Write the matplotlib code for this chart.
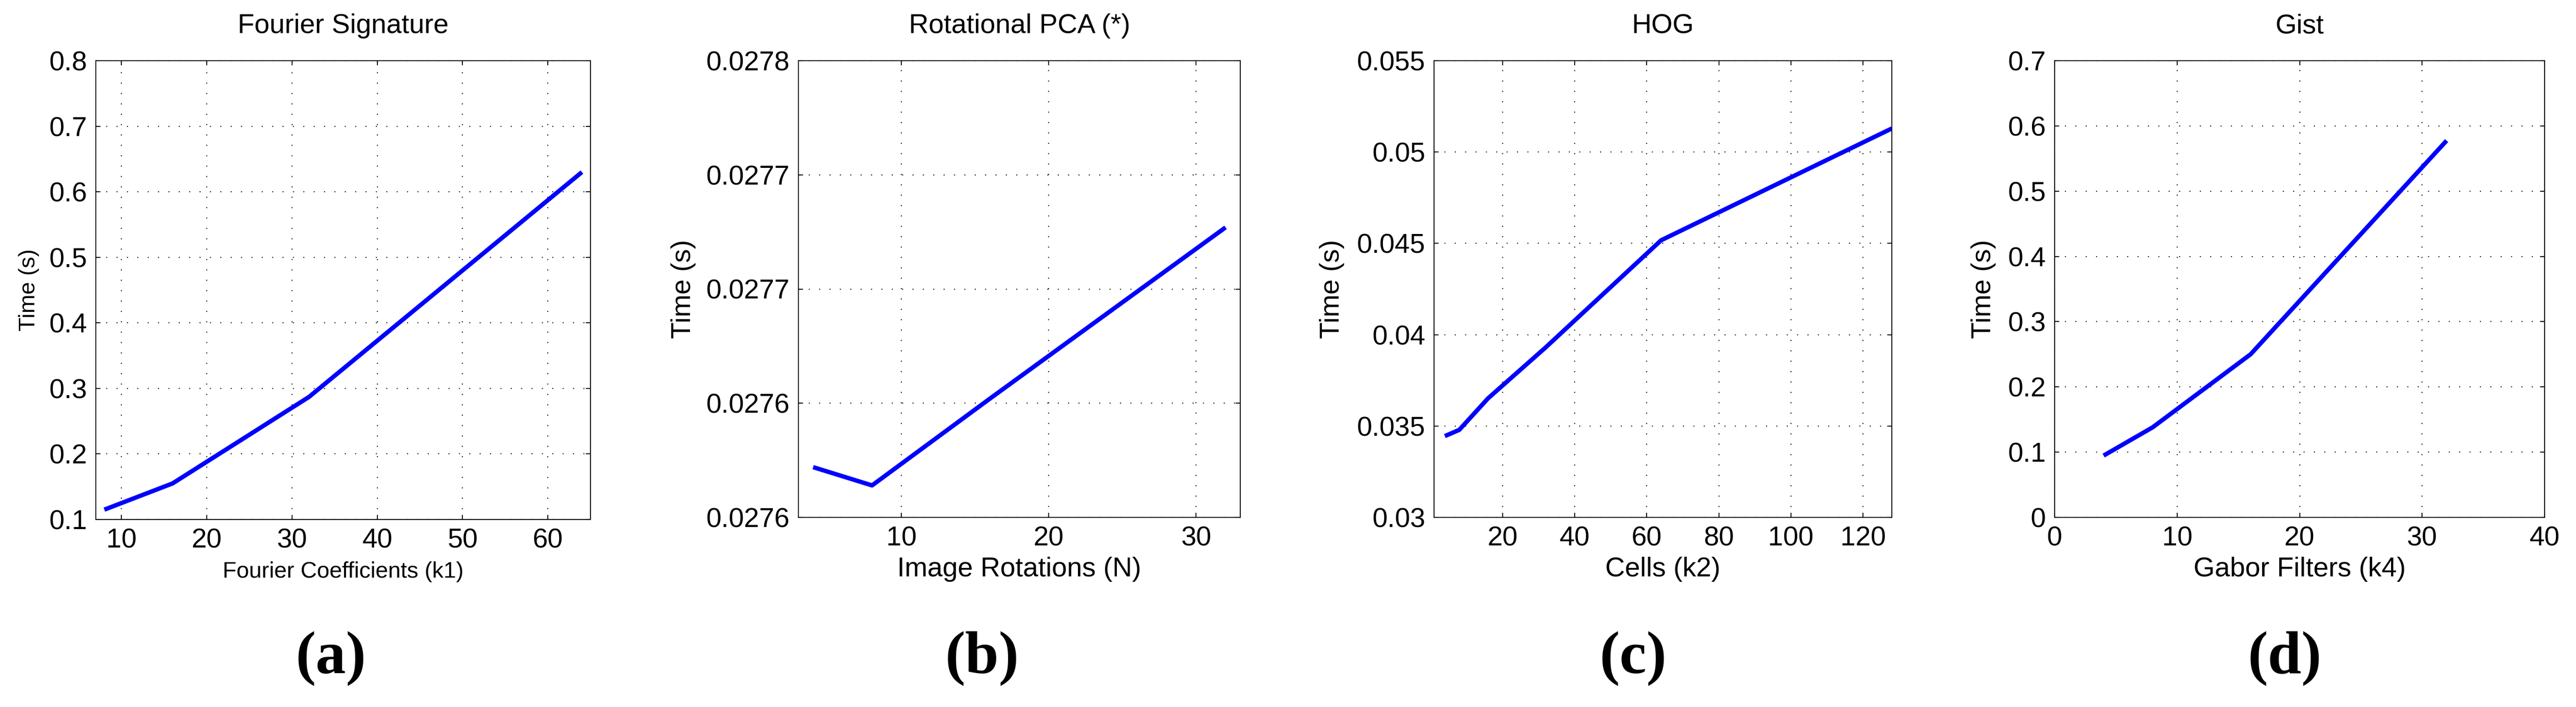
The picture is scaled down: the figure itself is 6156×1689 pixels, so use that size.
import numpy as np
import matplotlib
matplotlib.use('Agg')
import matplotlib.pyplot as plt

plt.rcParams['font.family'] = ['Liberation Sans', 'DejaVu Sans']

# data
fourier_k1 = [8, 16, 32, 64]
fourier_time = [0.115, 0.155, 0.287, 0.630]

rpca_n = [4, 8, 16, 32]
rpca_time = [0.027572, 0.027564, 0.027602, 0.027677]
rpca_yticks = [0.02755, 0.0276, 0.02765, 0.0277, 0.02775]
rpca_yticklabels = ['0.0276', '0.0276', '0.0277', '0.0277', '0.0278']

hog_k2 = [4, 8, 16, 32, 64, 128]
hog_time = [0.03445, 0.03479, 0.03652, 0.03931, 0.04517, 0.05129]

gist_k4 = [4, 8, 16, 32]
gist_time = [0.0947, 0.138, 0.250, 0.5775]

titles = ['Fourier Signature', 'Rotational PCA (*)', 'HOG', 'Gist']
xlabels = ['Fourier Coefficients (k1)', 'Image Rotations (N)', 'Cells (k2)', 'Gabor Filters (k4)']
letters = ['(a)', '(b)', '(c)', '(d)']

W, H = 6156, 1689
fig = plt.figure(figsize=(W / 100, H / 100), dpi=100)

# axes boxes in pixels: left, right, top, bottom
boxes = [(229, 1411, 145, 1241), (1908, 2964, 145, 1236),
         (3427, 4521, 145, 1236), (4910, 6081, 145, 1236)]
ylab_x = [-0.135, -0.26, -0.223, -0.145]
letter_x = [791, 2347, 3903, 5460]

axes = []
for (l, r, t, b) in boxes:
    axes.append(fig.add_axes([l / W, 1 - b / H, (r - l) / W, (b - t) / H]))

series = [(fourier_k1, fourier_time), (rpca_n, rpca_time),
          (hog_k2, hog_time), (gist_k4, gist_time)]

for i, ax in enumerate(axes):
    x, y = series[i]
    ax.plot(x, y, color='#0000ff', lw=7.5, solid_capstyle='butt')
    lab_size = 39 if i == 0 else 47
    ax.set_title(titles[i], fontsize=47, y=1.068, va='center')
    ax.set_xlabel(xlabels[i], fontsize=lab_size)
    ax.set_ylabel('Time (s)', fontsize=lab_size)
    ax.xaxis.set_label_coords(0.5, -0.114)
    ax.xaxis.label.set_va('center')
    ax.yaxis.set_label_coords(ylab_x[i], 0.5)
    ax.yaxis.label.set_va('center')
    ax.grid(True, color='black', lw=1.7, linestyle=(0, (1, 9.5)))
    ax.tick_params(direction='in', length=8, width=1.6, top=True, right=True,
                   labelsize=47, pad=15)
    for s in ax.spines.values():
        s.set_linewidth(1.6)

axes[0].set_xlim(7, 65)
axes[0].set_ylim(0.1, 0.8)
axes[0].set_xticks([10, 20, 30, 40, 50, 60])
axes[0].set_yticks(np.arange(0.1, 0.81, 0.1))
axes[0].set_yticklabels(['0.1', '0.2', '0.3', '0.4', '0.5', '0.6', '0.7', '0.8'])

axes[1].set_xlim(3, 33)
axes[1].set_ylim(rpca_yticks[0], rpca_yticks[-1])
axes[1].set_xticks([10, 20, 30])
axes[1].set_yticks(rpca_yticks)
axes[1].set_yticklabels(rpca_yticklabels)

axes[2].set_xlim(1, 128)
axes[2].set_ylim(0.03, 0.055)
axes[2].set_xticks([20, 40, 60, 80, 100, 120])
axes[2].set_yticks([0.03, 0.035, 0.04, 0.045, 0.05, 0.055])
axes[2].set_yticklabels(['0.03', '0.035', '0.04', '0.045', '0.05', '0.055'])

axes[3].set_xlim(0, 40)
axes[3].set_ylim(0, 0.7)
axes[3].set_xticks([0, 10, 20, 30, 40])
axes[3].set_yticks(np.arange(0, 0.71, 0.1))
axes[3].set_yticklabels(['0', '0.1', '0.2', '0.3', '0.4', '0.5', '0.6', '0.7'])

for i in range(4):
    fig.text(letter_x[i] / W, 1 - 1573 / H, letters[i], ha='center', va='center',
             fontsize=104, fontweight='bold', family=['Liberation Serif', 'DejaVu Serif'])

fig.savefig('out.png', dpi=100, facecolor='white')
